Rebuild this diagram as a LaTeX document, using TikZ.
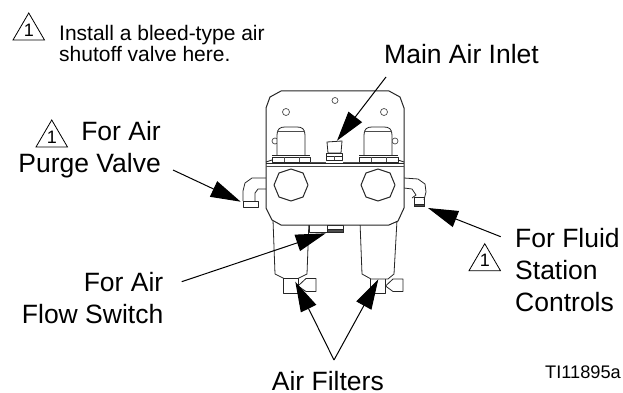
\documentclass[tikz,border=0pt]{standalone}
\usepackage{fontspec}
\setmainfont{Liberation Sans}
\usetikzlibrary{arrows.meta}
\tikzset{
  lbl/.style={font=\fontsize{26.5}{32}\selectfont,inner sep=0pt},
  smalllbl/.style={font=\fontsize{21}{21.7}\selectfont,align=left,inner sep=0pt,anchor=north west},
  part/.style={draw=black!85,line width=0.8pt,line join=round},
  thin part/.style={draw=black!70,line width=0.7pt,line join=round},
  bigarrow/.style={draw=black,line width=1pt,-{Triangle[length=30pt,width=17pt]}},
  warn/.style={draw=black,line width=0.8pt,line join=miter},
  digit/.style={font=\fontsize{18}{18}\selectfont,inner sep=0pt}
}
\newcommand{\warntri}[3]{%
  \draw[warn] (#1,#2) -- ++(31.5,0) -- ++(-15.75,-27) -- cycle;
  \node[digit] (#3) at (#1+15.9,#2-10) {1};}
\begin{document}
\begin{tikzpicture}[x=1pt,y=-1pt]
\useasboundingbox (0,0) rectangle (623,393);
\fill[white] (0,0) rectangle (623,393);
% filters
\draw[part] (273,220) -- (275,274) -- (284,278.5) -- (298,278.5) -- (307,274) -- (309,220);
\draw[part] (360,222) -- (362,274) -- (371,279) -- (388,279) -- (394,274) -- (397,220);
% valves
\draw[part] (283,278) rectangle (298,293);
\draw[part] (298,286) -- (306,278.5) -- (316,278.5) -- (316,291.5) -- (306,291.5) -- (298,286);
\draw[part] (370.5,279) -- (370.5,293) -- (385.5,293) -- (385.5,279);
\draw[part] (385.5,286) -- (393,279) -- (403,279) -- (403,291.5) -- (393,291.5) -- (385.5,286);
% switch fitting
\draw[part] (309,225) -- (309,232) -- (327,232);
\draw[part] (327,225) rectangle (343,232);
\draw[part,fill=black!70] (327,229) rectangle (343,232);
% elbows left
\draw[part] (266,178) -- (252,178) -- (245,183) -- (243,191) -- (243,201);
\draw[part] (266,189) -- (258,189) -- (255,193) -- (255,201);
\draw[part] (243,201) rectangle (258,207);
% elbows right
\draw[part] (404,178) -- (418,179) -- (425,184) -- (426,192) -- (424,200);
\draw[part] (404,188) -- (412,189) -- (416,195) -- (412,198);
\draw[part] (414,197) -- (424,197) -- (424,206) -- (414,206) -- cycle;
\draw[part,fill=black!70] (414,204) rectangle (424,206);
% plate
\draw[part,line width=1pt,fill=white] (266,108) -- (270,97) -- (281,91) -- (389,91) -- (400,97) -- (404,108) -- (404,208) -- (398,221) -- (389,225) -- (281,225) -- (272,220) -- (266,208) -- cycle;
\draw[part,line width=1pt] (266,163.5) -- (404,163.5);
\draw[thin part] (266,166) -- (404,166);
% holes
\draw[thin part] (335,100.5) circle (3);
\draw[thin part] (286,112) circle (3.5);
\draw[thin part] (384,112) circle (3.5);
\draw[thin part] (275,141) circle (3);
\draw[thin part] (395,141) circle (3);
% solenoids
\draw[part,fill=white] (277,155) -- (277,135) .. controls (277,129) and (280,127) .. (285,127) -- (297,127) .. controls (302,127) and (305,129) .. (305,135) -- (305,155);
\draw[part,fill=white] (364,155) -- (364,135) .. controls (364,129) and (367,127) .. (372,127) -- (384,127) .. controls (389,127) and (392,129) .. (392,135) -- (392,155);
\draw[thin part] (277,131) -- (305,131);
\draw[thin part] (364,131) -- (392,131);
\draw[part] (272,157) rectangle (310,162);
\draw[part] (359,157) rectangle (398,162);
\draw[part] (266,162) -- (272,160);
\draw[part] (398,160) -- (404,162);
\foreach \x in {284,299,371,386}{\draw[thin part] (\x,157) -- (\x,162);}
\draw[part] (272,155) -- (310,155);
\draw[part] (359,155) -- (398,155);
% centre fitting
\draw[part] (327,142) -- (342,141) -- (341,153) -- (328,153) -- cycle;
\draw[part] (326.5,153) rectangle (342.5,160);
\draw[part] (326.5,156) -- (342.5,156);
\draw[thin part] (334,156) -- (334,160);
\draw[thin part] (310,162) -- (326,162);
\draw[thin part] (343,162) -- (359,162);
% octagons
\draw[part,line width=1pt] (291,169) -- (303,173) -- (308,185) -- (303,197) -- (291,201) -- (279,197) -- (274,185) -- (279,173) -- cycle;
\draw[part,line width=1pt] (378,169) -- (390,173) -- (395,185) -- (390,197) -- (378,201) -- (366,197) -- (361,185) -- (366,173) -- cycle;
% warning triangles
\warntri{13}{40}{wa}
\warntri{36}{147}{wb}
\warntri{469}{270.7}{wc}
% labels
\node[smalllbl] (note) at (59,24.7) {Install a bleed-type air\\shutoff valve here.};
\node[lbl,anchor=base west] (inlet) at (384,63.3) {Main Air Inlet};
\node[lbl,align=right,anchor=north east] (purge) at (161,121.4) {For Air\\Purge Valve};
\node[lbl,align=left,anchor=north west] (fluid) at (515,228) {For Fluid\\Station\\Controls};
\node[lbl,align=right,anchor=north east] (flow) at (163.5,271.7) {For Air\\Flow Switch};
\node[lbl,anchor=base west] (filters) at (271.7,390) {Air Filters};
\node[font=\fontsize{18.2}{20}\selectfont,inner sep=0pt,anchor=base west] (ti) at (545,378) {TI11895a};
% targets
\coordinate (inletT) at (337,140.7);
\coordinate (purgeT) at (240.7,201.7);
\coordinate (fluidT) at (428,208);
\coordinate (flowT) at (325.7,233.3);
\coordinate (filterL) at (295.3,281.7);
\coordinate (filterR) at (378.3,279.3);
\coordinate (inletS) at (386,77);
\coordinate (purgeS) at (173,170);
\coordinate (fluidS) at (500.7,236.7);
\coordinate (flowS) at (181.7,281.7);
\coordinate (filterS) at (334,360);
\draw[bigarrow] (inletS) -- (inletT);
\draw[bigarrow] (purgeS) -- (purgeT);
\draw[bigarrow] (fluidS) -- (fluidT);
\draw[bigarrow] (flowS) -- (flowT);
\draw[bigarrow] (filterS) -- (filterL);
\draw[bigarrow] (filterS) -- (filterR);
\end{tikzpicture}
\end{document}
